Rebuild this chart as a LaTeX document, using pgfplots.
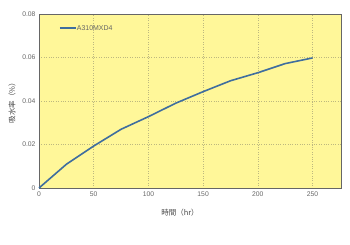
\documentclass[border=0pt]{standalone}
\usepackage{pgfplots}
\pgfplotsset{compat=1.18}
\usetikzlibrary{calc}
\usepackage{fontspec}
\setmainfont{Liberation Sans}
\newfontfamily\cjk{Noto Sans CJK JP}
\definecolor{bgyel}{HTML}{FFF799}
\definecolor{line1}{HTML}{3F6E9E}
\definecolor{gridc}{HTML}{BDB87F}
\definecolor{tickc}{HTML}{666666}
\begin{document}
\begin{tikzpicture}
\begin{axis}[
  scale only axis,
  width=302bp, height=174bp,
  xmin=0, xmax=276, ymin=0, ymax=0.08,
  xtick={0,50,100,150,200,250},
  ytick={0,0.02,0.04,0.06,0.08},
  yticklabel style={/pgf/number format/fixed,/pgf/number format/precision=2},
  /pgf/number format/assume math mode=true,
  ticklabel style={font=\fontsize{6.8}{7}\selectfont, text=tickc},
  tick style={draw=none},
  scaled y ticks=false,
  axis background/.style={fill=bgyel},
  axis line style={draw=gray!80!black, line width=0.6pt},
  grid=major,
  major grid style={draw=gridc, dotted, line width=0.5pt},
  clip=false,
]
\addplot[draw=line1, line width=1.6pt] coordinates {
 (0,0) (25,0.0109) (50,0.0193) (75,0.0270) (100,0.0328) (125,0.0390)
 (150,0.0443) (175,0.0493) (200,0.0530) (225,0.0572) (250,0.0598)
};
% legend key
\addplot[draw=line1, line width=1.6pt, forget plot] coordinates {(19,0.0735) (34,0.0735)};
\node[anchor=west, font=\fontsize{7}{8}\selectfont, text=tickc, inner sep=0.5pt] at (axis cs:34,0.0735) {A310MXD4};
\coordinate (sw) at (rel axis cs:0,0);
\end{axis}
\pgfresetboundingbox
\path (sw) ++(-39bp,-57bp) coordinate (o) rectangle ++(350bp,245bp);
\node[font=\cjk\fontsize{7.5}{8}\selectfont, text=tickc!70!black, rotate=90] at ($(o)+(12bp,144bp)$) {吸水率（\%）};
\node[font=\cjk\fontsize{7.5}{8}\selectfont, text=tickc!70!black] at ($(o)+(180bp,32bp)$) {時間（hr）};
\end{tikzpicture}
\end{document}
